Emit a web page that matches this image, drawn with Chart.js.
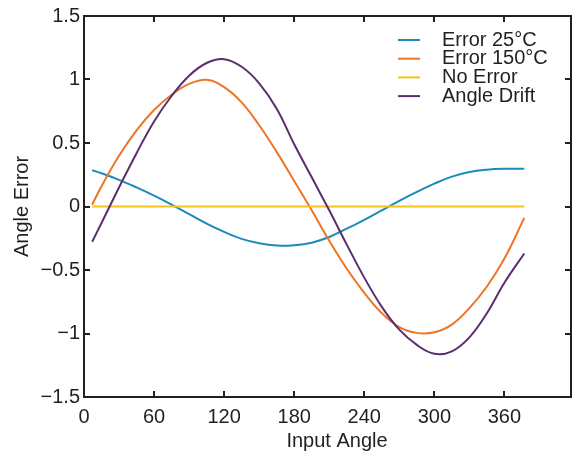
<!DOCTYPE html>
<html>
<head>
<meta charset="utf-8">
<script src="https://cdn.jsdelivr.net/npm/chart.js@4.4.1/dist/chart.umd.min.js"></script>
<style>
  html, body { margin: 0; padding: 0; background: #fff; }
  #wrap { width: 572px; height: 457px; }
</style>
</head>
<body>
<div id="wrap"><canvas id="myChart" width="572" height="457"></canvas></div>
<script>
// datos (angulo en grados)
const angulos = [7, 15, 30, 45, 60, 75, 90, 105, 120, 135, 150, 165, 180, 195, 210, 225, 240, 255, 270, 285, 300, 315, 330, 345, 360, 377];
const error25 = [0.285, 0.262, 0.21, 0.15, 0.085, 0.015, -0.06, -0.135, -0.2, -0.255, -0.29, -0.308, -0.305, -0.285, -0.24, -0.175, -0.105, -0.03, 0.045, 0.115, 0.18, 0.235, 0.272, 0.29, 0.297, 0.298];
const error150 = [0.015, 0.16, 0.4, 0.6, 0.76, 0.88, 0.965, 0.998, 0.94, 0.82, 0.64, 0.43, 0.2, -0.03, -0.27, -0.49, -0.68, -0.84, -0.95, -0.995, -0.99, -0.93, -0.8, -0.63, -0.41, -0.09];
const sinError = [0, 0, 0, 0, 0, 0, 0, 0, 0, 0, 0, 0, 0, 0, 0, 0, 0, 0, 0, 0, 0, 0, 0, 0, 0, 0];
const deriva = [-0.277, -0.13, 0.15, 0.42, 0.67, 0.87, 1.03, 1.13, 1.16, 1.1, 0.97, 0.77, 0.49, 0.23, -0.03, -0.3, -0.56, -0.79, -0.97, -1.09, -1.16, -1.14, -1.03, -0.84, -0.6, -0.37];

const nombres = ["Error 25°C", "Error 150°C", "No Error", "Angle Drift"];
const colores = ["#1a8bbb", "#ee7426", "#f3c419", "#5c2e70"];
const ticksX = [0, 60, 120, 180, 240, 300, 360];
const ticksY = [-1.5, -1, -0.5, 0, 0.5, 1, 1.5];

const fuente = "'Liberation Sans', Arial, sans-serif";

function puntos(valores) {
  return angulos.map((a, i) => ({ x: a, y: valores[i] }));
}

function etiquetaY(v) {
  if (v < 0) return "\u2212" + Math.abs(v);
  return String(v);
}

// marco con ticks hacia adentro, titulo X y leyenda dentro del area
const marco = {
  id: "marco",
  afterDraw(chart) {
    const ctx = chart.ctx;
    const area = chart.chartArea;
    const sx = chart.scales.x;
    const sy = chart.scales.y;
    ctx.save();
    ctx.strokeStyle = "#231f20";
    ctx.lineWidth = 2;
    ctx.strokeRect(area.left, area.top, area.right - area.left, area.bottom - area.top);
    ctx.beginPath();
    ticksX.forEach((v) => {
      const px = Math.round(sx.getPixelForValue(v));
      ctx.moveTo(px, area.bottom); ctx.lineTo(px, area.bottom - 6);
      ctx.moveTo(px, area.top); ctx.lineTo(px, area.top + 6);
    });
    ticksY.forEach((v) => {
      const py = Math.round(sy.getPixelForValue(v));
      ctx.moveTo(area.left, py); ctx.lineTo(area.left + 6, py);
      ctx.moveTo(area.right, py); ctx.lineTo(area.right - 6, py);
    });
    ctx.stroke();

    ctx.font = "20px " + fuente;
    ctx.fillStyle = "#231f20";
    ctx.textBaseline = "middle";
    ctx.textAlign = "center";
    ctx.fillText("Input Angle", 337, 441);

    // leyenda
    ctx.textAlign = "left";
    chart.data.datasets.forEach((ds, i) => {
      const y = 40 + i * 18.7;
      ctx.strokeStyle = ds.borderColor;
      ctx.lineWidth = 2;
      ctx.beginPath();
      ctx.moveTo(398, y); ctx.lineTo(420, y);
      ctx.stroke();
      ctx.fillText(ds.label, 442, y);
    });
    ctx.restore();
  }
};

const config = {
  type: "line",
  data: {
    datasets: [
      { label: nombres[0], data: puntos(error25), borderColor: colores[0], order: 3 },
      { label: nombres[1], data: puntos(error150), borderColor: colores[1], order: 2 },
      { label: nombres[2], data: puntos(sinError), borderColor: colores[2], order: 1 },
      { label: nombres[3], data: puntos(deriva), borderColor: colores[3], order: 0 }
    ]
  },
  options: {
    responsive: false,
    animation: false,
    layout: { padding: { left: 0, top: 13, right: 1, bottom: 0 } },
    elements: {
      point: { radius: 0 },
      line: { borderWidth: 2, tension: 0.4, fill: false }
    },
    plugins: {
      legend: { display: false },
      tooltip: { enabled: false }
    },
    scales: {
      x: {
        type: "linear",
        min: 0,
        max: 417,
        grid: { display: false, drawTicks: false },
        border: { display: false },
        afterBuildTicks: (scale) => {
          scale.ticks = ticksX.map((v) => ({ value: v }));
        },
        afterFit: (scale) => { scale.height = 60; },
        ticks: {
          autoSkip: false,
          maxRotation: 0,
          padding: 8,
          color: "#231f20",
          font: { family: fuente, size: 20 }
        },
        title: { display: false }
      },
      y: {
        type: "linear",
        min: -1.5,
        max: 1.5,
        grid: { display: false, drawTicks: false },
        border: { display: false },
        afterBuildTicks: (scale) => {
          scale.ticks = ticksY.map((v) => ({ value: v }));
        },
        afterFit: (scale) => { scale.width = 84; },
        ticks: {
          padding: 4,
          color: "#231f20",
          font: { family: fuente, size: 20 },
          callback: (v) => etiquetaY(v)
        },
        title: {
          display: true,
          text: "Angle Error",
          color: "#231f20",
          padding: { top: 10, bottom: 0 },
          font: { family: fuente, size: 20 }
        }
      }
    }
  },
  plugins: [marco]
};

new Chart(document.getElementById("myChart"), config);
</script>
</body>
</html>
